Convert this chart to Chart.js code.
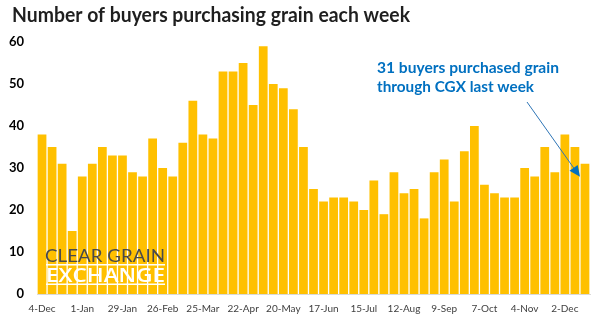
<!DOCTYPE html>
<html>
<head>
<meta charset="utf-8">
<script src="https://cdn.jsdelivr.net/npm/chart.js@4/dist/chart.umd.min.js"></script>
<style>
  html, body { margin: 0; padding: 0; background: #fff; }
  #wrap { width: 602px; height: 322px; }
</style>
</head>
<body>
<div id="wrap"><canvas id="myChart" width="602" height="322"></canvas></div>
<script>
// weekly buyers, 4-Dec to 9-Dec
let buyers = [38, 35, 31, 15, 28, 31, 35, 33, 33, 29, 28, 37, 30, 28, 36, 46,
    38, 37, 53, 53, 55, 45, 59, 50, 49, 44, 35, 25, 22, 23, 23, 22,
    20, 27, 19, 29, 24, 25, 18, 29, 32, 22, 34, 40, 26, 24, 23, 23,
    30, 28, 35, 29, 38, 35, 31]

// one label every 4 weeks
let tickLabels = ['4-Dec', '1-Jan', '29-Jan', '26-Feb', '25-Mar', '22-Apr', '20-May',
    '17-Jun', '15-Jul', '12-Aug', '9-Sep', '7-Oct', '4-Nov', '2-Dec']

let yTicks = [0, 10, 20, 30, 40, 50, 60]

let titulo = 'Number of buyers purchasing grain each week'
let nota = ['31 buyers purchased grain', 'through CGX last week']

let semanas = buyers.map((v, i) => (i % 4 === 0 ? tickLabels[i / 4] : ''))

// texto esticado para caber numa largura
function textoLargura(ctx, txt, x, y, largura) {
    let w = ctx.measureText(txt).width
    ctx.save()
    ctx.translate(x, y)
    ctx.scale(largura / w, 1)
    ctx.fillText(txt, 0, 0)
    ctx.restore()
}

let extras = {
    id: 'extras',
    afterDatasetsDraw(chart) {
        let ctx = chart.ctx
        let xs = chart.scales.x
        let ys = chart.scales.y

        // logo
        ctx.save()
        ctx.textBaseline = 'alphabetic'
        ctx.fillStyle = '#4a4a4a'
        ctx.font = '400 18px Lato'
        textoLargura(ctx, 'CLEAR GRAIN', 45, 262, 120)
        ctx.fillStyle = '#ffffff'
        ctx.font = '600 19px "Open Sans"'
        textoLargura(ctx, 'EXCHANGE', 46, 282, 119)
        ctx.fillRect(46, 264, 119, 1.5)
        ctx.fillRect(46, 283.5, 119, 1.5)
        ctx.restore()

        // seta ate a ultima barra
        let last = buyers.length - 1
        let tx = xs.getPixelForValue(last) - 5
        let ty = ys.getPixelForValue(buyers[last]) + 13
        let sx = 527, sy = 102
        let ang = Math.atan2(ty - sy, tx - sx)
        ctx.save()
        ctx.strokeStyle = '#2e75b6'
        ctx.fillStyle = '#0070c0'
        ctx.lineWidth = 1
        ctx.beginPath()
        ctx.moveTo(sx, sy)
        ctx.lineTo(tx - 9 * Math.cos(ang), ty - 9 * Math.sin(ang))
        ctx.stroke()
        ctx.beginPath()
        ctx.moveTo(tx, ty)
        ctx.lineTo(tx - 11 * Math.cos(ang) + 5 * Math.sin(ang), ty - 11 * Math.sin(ang) - 5 * Math.cos(ang))
        ctx.lineTo(tx - 11 * Math.cos(ang) - 5 * Math.sin(ang), ty - 11 * Math.sin(ang) + 5 * Math.cos(ang))
        ctx.closePath()
        ctx.fill()
        ctx.restore()

        // nota
        ctx.save()
        ctx.fillStyle = '#0070c0'
        ctx.font = 'bold 15px Lato'
        ctx.textBaseline = 'alphabetic'
        textoLargura(ctx, nota[0], 377, 73, 182)
        textoLargura(ctx, nota[1], 377, 92, 157)
        ctx.restore()

        // titulo
        ctx.save()
        ctx.fillStyle = '#1f1f1f'
        ctx.font = 'bold 20px Lato'
        ctx.textBaseline = 'alphabetic'
        textoLargura(ctx, titulo, 12, 22, 398)
        ctx.restore()
    }
}

let ctx = document.querySelector('#myChart')

let chart = new Chart(ctx, {
    type: 'bar',
    data: {
        labels: semanas,
        datasets: [{
            label: 'Buyers',
            data: buyers,
            backgroundColor: '#ffc000',
            borderWidth: 0,
            barPercentage: 0.87,
            categoryPercentage: 1
        }]
    },
    options: {
        responsive: false,
        animation: false,
        layout: { padding: { top: 42, right: 12, bottom: 0, left: 0 } },
        plugins: {
            legend: { display: false },
            title: { display: false },
            tooltip: { enabled: false }
        },
        scales: {
            x: {
                afterFit: (s) => { s.height = 28 },
                grid: { display: false, drawTicks: false },
                border: { display: true, color: '#d9d9d9' },
                ticks: {
                    autoSkip: false,
                    maxRotation: 0,
                    padding: 9,
                    color: '#404040',
                    font: { family: 'Lato', size: 10 }
                }
            },
            y: {
                min: yTicks[0],
                max: yTicks[yTicks.length - 1],
                afterBuildTicks: (s) => { s.ticks = yTicks.map(v => ({ value: v })) },
                afterFit: (s) => { s.width = 37 },
                grid: { display: false, drawTicks: false },
                border: { display: false },
                ticks: {
                    padding: 13,
                    color: '#000000',
                    font: { family: 'Lato', size: 13, weight: 'bold' }
                }
            }
        }
    },
    plugins: [extras]
})
</script>
</body>
</html>
